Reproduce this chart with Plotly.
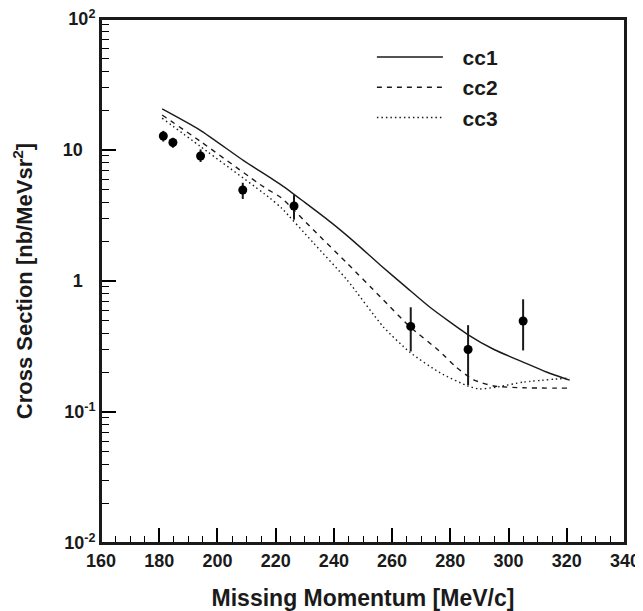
import plotly.graph_objects as go

# ---- data ----
data_x = [181.4, 184.7, 194.2, 208.7, 226.3, 266.4, 286.1, 305.0]
data_y = [12.8, 11.4, 9.0, 4.95, 3.74, 0.45, 0.30, 0.495]
data_err_plus = [1.2, 1.0, 1.1, 0.67, 0.79, 0.18, 0.16, 0.23]
data_err_minus = [1.2, 1.0, 0.9, 0.72, 0.80, 0.16, 0.14, 0.20]

cc1_x = [181, 194, 209, 222, 230, 239, 247, 256, 265, 273, 286, 295, 305, 313, 321]
cc1_y = [20.6, 14.2, 8.3, 5.4, 3.98, 2.8, 1.99, 1.32, 0.89, 0.63, 0.39, 0.30, 0.24, 0.202, 0.175]

cc2_x = [181, 194, 216, 222, 233, 244.5, 256, 266, 276, 282, 288, 295, 305, 321]
cc2_y = [18.5, 11.7, 5.2, 4.3, 2.45, 1.37, 0.755, 0.45, 0.295, 0.22, 0.176, 0.158, 0.153, 0.152]

cc3_x = [181, 194, 218, 222, 233, 244.5, 257, 266, 276.5, 286, 290, 296, 305, 321]
cc3_y = [17.5, 10.7, 4.3, 3.6, 1.95, 1.02, 0.446, 0.287, 0.199, 0.158, 0.150, 0.155, 0.169, 0.182]

x_ticks = [160, 180, 200, 220, 240, 260, 280, 300, 320, 340]
y_tickvals = [0.01, 0.1, 1, 10, 100]
y_ticktext = ["10<sup>-2</sup>", "10<sup>-1</sup>", "1\u2002\u2009", "10\u2002\u2009", "10<sup>2</sup>"]
y_minor = [m * d for d in (0.01, 0.1, 1, 10) for m in range(2, 10)]

INK = "#1a1a1a"
FONT = "Liberation Sans"
Y_RANGE_LOG = [-2, 2]

fig = go.Figure()

fig.add_trace(go.Scatter(x=cc1_x, y=cc1_y, mode="lines", name="\u2002\u2009cc1",
                         line=dict(color=INK, width=1.4, shape="spline", smoothing=0.6)))
fig.add_trace(go.Scatter(x=cc2_x, y=cc2_y, mode="lines", name="\u2002\u2009cc2",
                         line=dict(color=INK, width=1.4, dash="5px,5px", shape="spline", smoothing=0.6)))
fig.add_trace(go.Scatter(x=cc3_x, y=cc3_y, mode="lines", name="\u2002\u2009cc3",
                         line=dict(color=INK, width=1.4, dash="1.5px,3px", shape="spline", smoothing=0.6)))
fig.add_trace(go.Scatter(x=data_x, y=data_y, mode="markers", name="data",
                         showlegend=False,
                         marker=dict(color="black", size=9, symbol="circle"),
                         error_y=dict(type="data", symmetric=False,
                                      array=data_err_plus, arrayminus=data_err_minus,
                                      color=INK, thickness=2, width=0)))

# invisible anchors so that the companion tick axes are drawn
for ax_name in ("y2", "y3"):
    fig.add_trace(go.Scatter(x=[cc1_x[0]], y=[cc1_y[0]], yaxis=ax_name, mode="markers",
                             marker=dict(opacity=0), showlegend=False, hoverinfo="skip"))

fig.update_layout(
    width=635, height=603,
    margin=dict(l=93, r=18, t=11, b=68),
    paper_bgcolor="white", plot_bgcolor="white",
    font=dict(family=FONT, color=INK),
    xaxis=dict(range=[160, 340], automargin=False,
               showline=True, linecolor=INK, linewidth=2, mirror=True,
               showgrid=False, zeroline=False,
               tickmode="array", tickvals=x_ticks,
               ticks="inside", ticklen=15, tickwidth=1.5, tickcolor="black",
               tickfont=dict(family=FONT, size=18, color=INK, weight="bold"),
               minor=dict(dtick=5, tick0=160, ticks="inside",
                          ticklen=7, tickcolor="black", tickwidth=1.2),
               title=dict(text="Missing Momentum [MeV/c]", standoff=20,
                          font=dict(family=FONT, size=23, color=INK, weight="bold"))),
    yaxis=dict(type="log", range=Y_RANGE_LOG, automargin=False,
               showline=True, linecolor=INK, linewidth=2, mirror=True,
               showgrid=False, zeroline=False,
               tickmode="array", tickvals=y_tickvals, ticktext=y_ticktext,
               ticks="inside", ticklen=15, tickwidth=1.5, tickcolor="black",
               ticklabeloverflow="allow",
               tickfont=dict(family=FONT, size=18, color=INK, weight="bold"),
               title=dict(text="\u2003\u2003Cross Section [nb/MeVsr<sup>2</sup>]", standoff=24,
                          font=dict(family=FONT, size=22, color=INK, weight="bold"))),
    # short minor ticks
    yaxis2=dict(type="log", range=Y_RANGE_LOG, overlaying="y", side="left", anchor="x",
                automargin=False, showline=False, showgrid=False, zeroline=False,
                tickmode="array", tickvals=y_minor, showticklabels=False,
                ticks="inside", ticklen=8, tickwidth=1.2, tickcolor="black"),
    # long major ticks and the left/right frame lines
    yaxis3=dict(type="log", range=Y_RANGE_LOG, overlaying="y", side="left", anchor="x",
                automargin=False, showline=True, linecolor=INK, linewidth=2, mirror=True,
                showgrid=False, zeroline=False,
                tickmode="array", tickvals=y_tickvals, showticklabels=False,
                ticks="inside", ticklen=15, tickwidth=1.5, tickcolor="black"),
    legend=dict(x=0.517, y=0.966, xanchor="left", yanchor="top",
                bgcolor="rgba(0,0,0,0)", borderwidth=0,
                font=dict(family=FONT, size=21, color=INK, weight="bold"),
                itemwidth=66),
)

# frame around the plot area
fig.add_shape(type="rect", xref="paper", yref="paper", x0=0, x1=1, y0=0, y1=1,
              line=dict(color=INK, width=2), fillcolor="rgba(0,0,0,0)", layer="above")

fig.write_html("out.html")
